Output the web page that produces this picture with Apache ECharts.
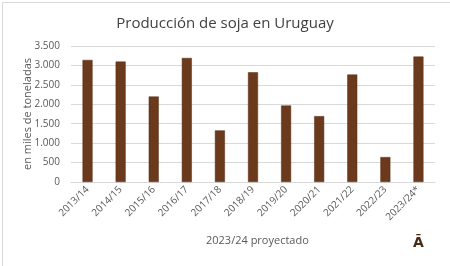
<!DOCTYPE html>
<html>
<head>
<meta charset="utf-8">
<script src="https://cdn.jsdelivr.net/npm/echarts@6/dist/echarts.min.js"></script>
<style>html,body{margin:0;padding:0;background:#fff}#c{width:450px;height:266px}</style>
</head>
<body>
<div id="c"></div>
<script>
const categories = ['2013/14','2014/15','2015/16','2016/17','2017/18','2018/19','2019/20','2020/21','2021/22','2022/23','2023/24*'];
const production = [3142, 3099, 2200, 3193, 1327, 2825, 1969, 1695, 2765, 642, 3228];
const yTicks = [0, 500, 1000, 1500, 2000, 2500, 3000, 3500];

const chart = echarts.init(document.getElementById('c'));
const fmt = v => String(v).replace(/\B(?=(\d{3})+(?!\d))/g, '.');
chart.setOption({
  animation: false,
  textStyle: { fontFamily: 'Open Sans, Noto Sans, sans-serif' },
  title: {
    text: 'Producción de soja en Uruguay',
    left: 'center', top: 11,
    textStyle: { fontSize: 15, fontWeight: 'normal', color: '#404040', fontFamily: 'Open Sans, Noto Sans, sans-serif' }
  },
  graphic: [
    { type: 'rect', left: 0, top: 0, shape: { width: 449, height: 265 }, style: { fill: 'none', stroke: '#d9d9d9', lineWidth: 1 } },
    { type: 'text', left: 206, top: 235, style: { text: '2023/24 proyectado', fontSize: 11, fill: '#595959', fontFamily: 'Open Sans, Noto Sans, sans-serif' } },
    { type: 'text', left: 413, top: 236, style: { text: 'Ā', fontSize: 14, fontWeight: 'bold', fill: '#4a2a14', fontFamily: 'DejaVu Sans, sans-serif' } }
  ],
  grid: { left: 71, right: 15, top: 46, bottom: 84 },
  xAxis: {
    type: 'category', data: categories,
    axisLine: { lineStyle: { color: '#d9d9d9' } },
    axisTick: { show: false },
    axisLabel: { rotate: 45, fontSize: 10, color: '#595959', margin: 6, interval: 0 }
  },
  yAxis: {
    type: 'value', min: 0, max: 3500, interval: 500,
    name: 'en miles de toneladas', nameLocation: 'middle', nameGap: 38, nameRotate: 90,
    nameMoveOverlap: false,
    nameTextStyle: { fontSize: 11, color: '#595959' },
    axisLine: { show: false }, axisTick: { show: false },
    axisLabel: { fontSize: 10, color: '#595959', margin: 11, formatter: v => yTicks.includes(v) ? fmt(v) : '' },
    splitLine: { lineStyle: { color: '#d9d9d9' } }
  },
  series: [{
    type: 'bar', data: production, barWidth: 10,
    itemStyle: { color: '#6b391c', borderColor: '#5a2e15', borderWidth: 0.5 }
  }]
});
</script>
</body>
</html>
